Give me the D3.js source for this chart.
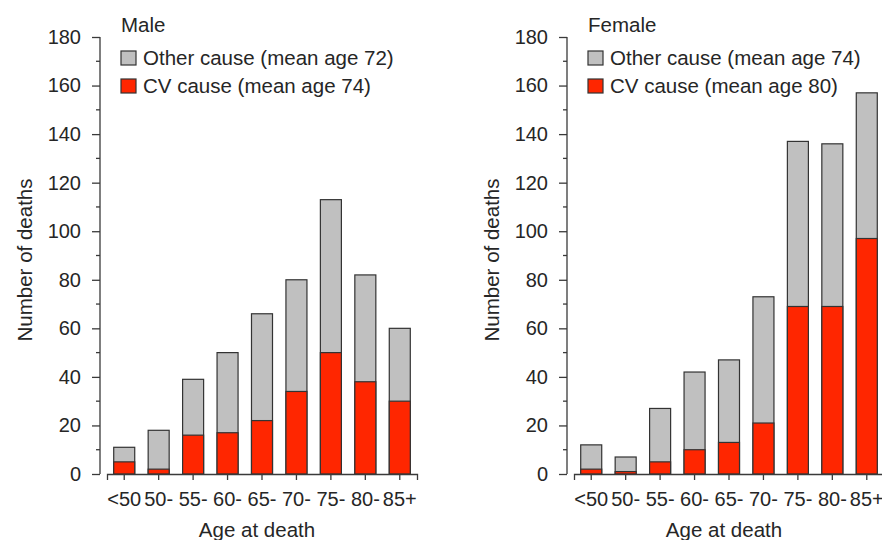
<!DOCTYPE html>
<meta charset="utf-8">
<style>
	body { margin: 0; background: #fff; }
	svg { font-family: "Liberation Sans", Arial, sans-serif; }
	text { fill: #262626; }
	.axis path, .axis line { stroke: #3a3a3a; stroke-width: 1.3; fill: none; }
</style>
<body>
<svg id="chart" width="882" height="540"></svg>

<script src="https://d3js.org/d3.v7.min.js"></script>
<script>
	// data
	var ageGroups = ["<50", "50-", "55-", "60-", "65-", "70-", "75-", "80-", "85+"];
	var maleTotal = [11, 18, 39, 50, 66, 80, 113, 82, 60];
	var maleCV = [5, 2, 16, 17, 22, 34, 50, 38, 30];
	var femaleTotal = [12, 7, 27, 42, 47, 73, 137, 136, 157];
	var femaleCV = [2, 1, 5, 10, 13, 21, 69, 69, 97];
	var yTicks = [0, 20, 40, 60, 80, 100, 120, 140, 160, 180];
	var yMinor = [10, 30, 50, 70, 90, 110, 130, 150, 170];

	var panels = [
		{title: "Male", total: maleTotal, cv: maleCV, otherMean: 72, cvMean: 74, left: 100, x0: 107},
		{title: "Female", total: femaleTotal, cv: femaleCV, otherMean: 74, cvMean: 80, left: 567, x0: 574}
	];

	var svg = d3.select("#chart");
	var grey = "#c0c0c0", red = "#ff2600", edge = "#333";

	var y = d3.scaleLinear().domain([0, 180]).range([474, 37]);

	panels.forEach(function(p) {
		var g = svg.append("g");

		var x = d3.scaleBand()
			.domain(ageGroups)
			.range([p.x0, p.x0 + 310])
			.paddingInner(0.39)
			.paddingOuter(0.195);

		var rows = ageGroups.map(function(a, i) {
			return {age: a, total: p.total[i], cv: p.cv[i]};
		});

		// total bar (grey) then CV part (red) on top of it
		g.selectAll(".tot").data(rows).enter().append("rect")
			.attr("x", function(d) { return x(d.age); })
			.attr("y", function(d) { return y(d.total); })
			.attr("width", x.bandwidth())
			.attr("height", function(d) { return y(0) - y(d.total); })
			.attr("fill", grey).attr("stroke", edge).attr("stroke-width", 1.2);

		g.selectAll(".cv").data(rows).enter().append("rect")
			.attr("x", function(d) { return x(d.age); })
			.attr("y", function(d) { return y(d.cv); })
			.attr("width", x.bandwidth())
			.attr("height", function(d) { return y(0) - y(d.cv); })
			.attr("fill", red).attr("stroke", edge).attr("stroke-width", 1.2);

		// y axis
		var ya = g.append("g").attr("class", "axis")
			.attr("transform", "translate(" + p.left + ",0)")
			.call(d3.axisLeft(y).tickValues(yTicks).tickSize(8).tickPadding(11));
		ya.select(".domain").attr("d", "M0," + y(180) + "V" + y(0));
		ya.selectAll("text").style("font-size", "20px").attr("fill", "#262626");
		ya.selectAll(".minor").data(yMinor).enter().append("line")
			.attr("class", "minor")
			.attr("x1", -4).attr("x2", 0)
			.attr("y1", function(d) { return y(d); })
			.attr("y2", function(d) { return y(d); });

		// x axis
		var xa = g.append("g").attr("class", "axis")
			.attr("transform", "translate(0," + y(0) + ")")
			.call(d3.axisBottom(x).tickSize(6).tickPadding(12));
		xa.selectAll("text").style("font-size", "20px").attr("fill", "#262626");

		g.append("text")
			.attr("x", (x.range()[0] + x.range()[1]) / 2 - 5)
			.attr("y", 537)
			.attr("text-anchor", "middle")
			.style("font-size", "20.5px")
			.text("Age at death");

		g.append("text")
			.attr("transform", "translate(" + (p.left - 68) + "," + 260 + ") rotate(-90)")
			.attr("text-anchor", "middle")
			.style("font-size", "20.5px")
			.text("Number of deaths");

		// legend
		var lx = p.left + 21;
		g.append("text").attr("x", lx).attr("y", 32).style("font-size", "20.5px").text(p.title);

		var leg = [
			{fill: grey, label: "Other cause (mean age " + p.otherMean + ")"},
			{fill: red, label: "CV cause (mean age " + p.cvMean + ")"}
		];
		leg.forEach(function(l, i) {
			g.append("rect")
				.attr("x", lx).attr("y", 51 + i * 28)
				.attr("width", 15).attr("height", 14)
				.attr("fill", l.fill).attr("stroke", edge).attr("stroke-width", 1.2);
			g.append("text")
				.attr("x", lx + 22).attr("y", 65 + i * 28)
				.style("font-size", "20.5px")
				.text(l.label);
		});
	});
</script>
</body>
